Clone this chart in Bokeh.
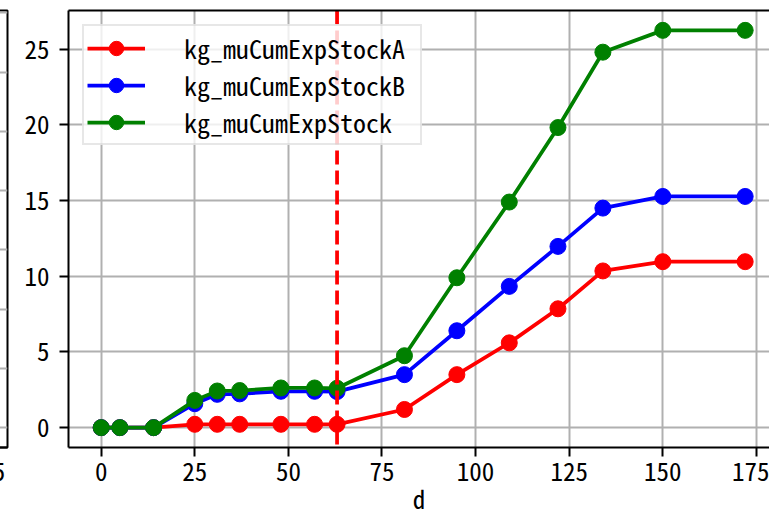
from bokeh.plotting import figure
from bokeh.models import Range1d, SingleIntervalTicker, FixedTicker, LinearAxis, Span
from bokeh.layouts import row
from bokeh.embed import file_html
from bokeh.resources import INLINE

# ---- data ----
days = [0, 5, 14, 25, 31, 37, 48, 57, 63, 81, 95, 109, 122, 134, 150, 172]
stock_a = [0, 0, 0, 0.22, 0.22, 0.22, 0.22, 0.22, 0.22, 1.2, 3.5, 5.6, 7.85, 10.35, 10.96, 10.96]
stock_b = [0, 0, 0, 1.58, 2.2, 2.23, 2.4, 2.4, 2.38, 3.5, 6.4, 9.33, 11.97, 14.5, 15.27, 15.27]
stock_total = [0, 0, 0, 1.8, 2.42, 2.45, 2.62, 2.62, 2.6, 4.75, 9.9, 14.9, 19.82, 24.8, 26.24, 26.24]
series_labels = [" kg_muCumExpStockA", " kg_muCumExpStockB", " kg_muCumExpStock"]
series_colors = ["red", "blue", "green"]
cutoff_day = 63
x_label = "d"

FONT = "Noto Sans Mono CJK JP"
FS = "25px"

ymin = min(stock_total)
ymax = max(stock_total)
ypad = 0.05 * (ymax - ymin)


def style_axis(ax, standoff):
    ax.axis_line_width = 2
    ax.axis_line_color = "black"
    ax.major_tick_line_width = 2
    ax.major_tick_line_color = "black"
    ax.major_tick_out = 9
    ax.major_tick_in = 0
    ax.minor_tick_line_color = None
    ax.major_label_text_font = FONT
    ax.major_label_text_font_size = FS
    ax.major_label_text_color = "black"
    ax.major_label_standoff = standoff


# ---- cropped neighbour panel (only its right edge is visible) ----
lf = figure(frame_width=59, frame_height=437, x_range=Range1d(164.84, 180.6),
            y_range=Range1d(-0.333, 7.04),
            output_backend="svg", toolbar_location=None,
            min_border_left=0, min_border_right=5, min_border_top=10, min_border_bottom=71)
lf.yaxis.visible = False
lf.outline_line_color = "black"
lf.outline_line_width = 2
lf_x = lf.below[0]
lf_x.ticker = SingleIntervalTicker(interval=25, num_minor_ticks=0)
style_axis(lf_x, 5)
lf.ygrid.ticker = SingleIntervalTicker(interval=1, num_minor_ticks=0)
lf.grid.grid_line_color = "#b0b0b0"
lf.grid.grid_line_width = 2

# ---- main panel ----
p = figure(frame_width=701, frame_height=437, x_range=Range1d(-8.73, 178.5),
           y_range=Range1d(ymin - ypad, ymax + ypad),
           output_backend="svg", toolbar_location=None,
           min_border_left=56, min_border_right=0, min_border_top=10, min_border_bottom=71)
p.outline_line_color = None

xax = p.below[0]
yax = p.left[0]
xax.ticker = SingleIntervalTicker(interval=25, num_minor_ticks=0)
yax.ticker = SingleIntervalTicker(interval=5, num_minor_ticks=0)
style_axis(xax, 5)
style_axis(yax, 10)
xax.axis_label = x_label
xax.axis_label_text_font = FONT
xax.axis_label_text_font_size = FS
xax.axis_label_text_font_style = "normal"
xax.axis_label_text_color = "black"
xax.axis_label_standoff = -4

top_axis = LinearAxis(ticker=FixedTicker(ticks=[]), major_tick_out=0, major_tick_in=0,
                      minor_tick_out=0, minor_tick_in=0, axis_line_width=2,
                      axis_line_color="black", major_label_standoff=0,
                      major_label_text_font_size="0px", axis_label=None)
p.add_layout(top_axis, "above")

p.xgrid.ticker = xax.ticker
p.grid.grid_line_color = "#b0b0b0"
p.grid.grid_line_width = 2

for ys, lab, col in zip([stock_a, stock_b, stock_total], series_labels, series_colors):
    p.line(days, ys, line_color=col, line_width=3.75, legend_label=lab)
    p.scatter(days, ys, size=16, marker="circle", fill_color=col, line_color=col, legend_label=lab)

p.add_layout(Span(location=cutoff_day, dimension="height", line_color="red",
                  line_dash="14 6", line_width=3.75, level="glyph"))

lg = p.legend[0]
lg.location = "top_left"
lg.margin = 14
lg.padding = 3
lg.spacing = 0
lg.glyph_width = 58
lg.glyph_height = 36
lg.label_height = 30
lg.label_standoff = 26
lg.label_width = 246
lg.label_text_font = FONT
lg.label_text_font_size = "26px"
lg.label_text_color = "black"
lg.background_fill_color = "white"
lg.background_fill_alpha = 0.8
lg.border_line_color = "#d0d0d0"
lg.border_line_width = 2

layout = row(lf, p, styles={"margin-left": "-52px"})

open("out.html", "w").write(file_html(layout, INLINE))
